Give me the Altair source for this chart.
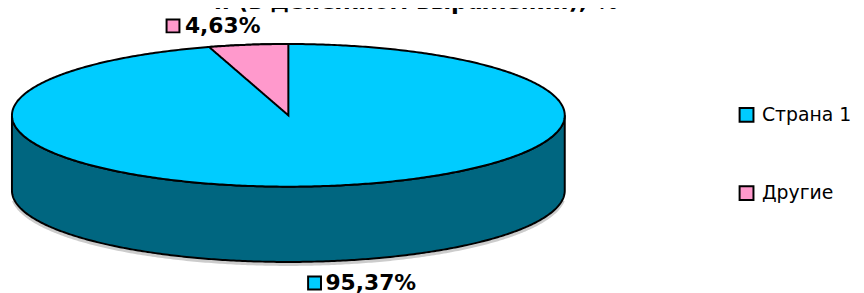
import altair as alt
import numpy as np
import pandas as pd

# ---- data ----
categories = ["Страна 1", "Другие"]
values = [95.37, 4.63]
value_labels = ["95,37%", "4,63%"]
colors = ["#00CCFF", "#FF99CC"]
side_color = "#006680"
title_lines = ["п (в денежном выражении), %"]

# ---- layout (pixels; chart coords == page coords thanks to padding) ----
W, H = 864, 293
CX, CY, RX, RY, DEPTH = 291, 115, 279, 72, 76
# label offsets from the rim point at the middle of each slice
TEXT_DX, TEXT_DY = [-3, -64], [29, -12]
SQ_DX, SQ_DY = [-14, -76], [22, -19]

total = sum(values)
fracs = [v / total for v in values]
starts = np.cumsum([0] + fracs[:-1])

t = np.linspace(0, np.pi, 301)
ex = CX - RX * np.cos(t)
top_df = pd.DataFrame({"x": ex, "y": CY - RY * np.sin(t), "y2": CY + RY * np.sin(t),
                       "cat": categories[0]})
side_df = pd.DataFrame({"x": ex, "y": CY + RY * np.sin(t), "y2": CY + RY * np.sin(t) + DEPTH})
shadow_df = pd.DataFrame({"x": ex[10:-10], "y": CY + RY * np.sin(t[10:-10]) + DEPTH + 2.5})

# small slice (sector at the back of the top face)
s, e = starts[1], starts[1] + fracs[1]
f = np.linspace(s, e, 80)
px = CX + RX * np.sin(2 * np.pi * f)
py = CY - RY * np.cos(2 * np.pi * f)
xs, ys = px[0], py[0]
py2 = ys + (px - xs) / (CX - xs) * (CY - ys)
sector_df = pd.DataFrame({"x": px, "y": py, "y2": py2, "cat": categories[1]})

# labels
rows = []
for i, cat in enumerate(categories):
    m = 2 * np.pi * (starts[i] + fracs[i] / 2)
    rx_ = CX + RX * np.sin(m)
    ry_ = CY - RY * np.cos(m) + (DEPTH if np.cos(m) < 0 else 0)
    rows.append({"cat": cat, "label": value_labels[i],
                 "tx": rx_ + TEXT_DX[i], "ty": ry_ + TEXT_DY[i],
                 "sx": rx_ + SQ_DX[i], "sy": ry_ + SQ_DY[i]})
lab_df = pd.DataFrame(rows)

xsc = alt.Scale(domain=[0, W], nice=False, zero=False)
ysc = alt.Scale(domain=[0, H], reverse=True, nice=False, zero=False)
csc = alt.Scale(domain=categories, range=colors)

color = alt.Color("cat:N", scale=csc, legend=alt.Legend(
    title=None, orient="none", legendX=744, legendY=105, symbolType="square",
    symbolSize=196, symbolStrokeColor="black", symbolStrokeWidth=2,
    labelFont="DejaVu Sans", labelFontSize=19, labelColor="black",
    rowPadding=56, labelOffset=6, padding=0, labelLimit=300))

shadow = alt.Chart(shadow_df).mark_line(color="#9a9a9a", strokeWidth=3, opacity=0.5).encode(
    x=alt.X("x:Q", scale=xsc, axis=None), y=alt.Y("y:Q", scale=ysc, axis=None))

side = alt.Chart(side_df).mark_area(color=side_color, stroke="black", strokeWidth=2).encode(
    x=alt.X("x:Q", scale=xsc, axis=None), y=alt.Y("y:Q", scale=ysc, axis=None), y2="y2:Q")

top = alt.Chart(top_df).mark_area(stroke="black", strokeWidth=2, opacity=1).encode(
    x=alt.X("x:Q", scale=xsc, axis=None), y=alt.Y("y:Q", scale=ysc, axis=None), y2="y2:Q",
    color=color)

sector = alt.Chart(sector_df).mark_area(stroke="black", strokeWidth=2, opacity=1,
                                        strokeJoin="miter").encode(
    x=alt.X("x:Q", scale=xsc, axis=None), y=alt.Y("y:Q", scale=ysc, axis=None), y2="y2:Q",
    color=color)

squares = alt.Chart(lab_df).mark_square(size=169, filled=True, stroke="black",
                                        strokeWidth=2, opacity=1).encode(
    x=alt.X("sx:Q", scale=xsc, axis=None), y=alt.Y("sy:Q", scale=ysc, axis=None),
    color=color)

texts = alt.Chart(lab_df).mark_text(font="DejaVu Sans", fontWeight="bold", fontSize=22,
                                    align="left", baseline="alphabetic", color="black").encode(
    x=alt.X("tx:Q", scale=xsc, axis=None), y=alt.Y("ty:Q", scale=ysc, axis=None),
    text="label:N")

title = alt.Chart(pd.DataFrame({"t": title_lines})).mark_text(
    font="DejaVu Sans", fontWeight="bold", fontSize=23, align="center",
    baseline="alphabetic", color="black").encode(
    x=alt.value(420), y=alt.value(8), text="t:N")

chart = alt.layer(shadow, side, top, sector, squares, texts, title).properties(
    width=W, height=H, autosize=alt.AutoSizeParams(type="none"),
    padding={"left": -8, "top": -8, "right": 0, "bottom": 0},
    background="white").configure_view(stroke=None)

chart.save("out.html", embed_options={"renderer": "svg", "actions": False})
